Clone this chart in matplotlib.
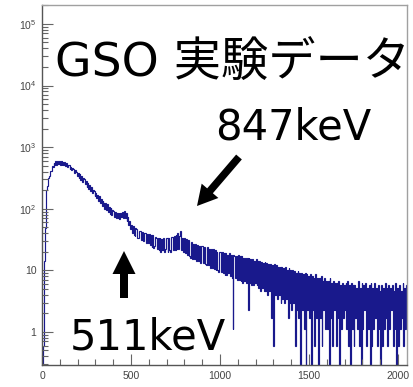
import numpy as np
import matplotlib
matplotlib.use("Agg")
import matplotlib.pyplot as plt
from matplotlib.patches import FancyArrow
from matplotlib.ticker import FixedLocator, FuncFormatter, LogLocator, MultipleLocator, NullFormatter

plt.rcParams["mathtext.fontset"] = "custom"
plt.rcParams["mathtext.rm"] = "Liberation Sans"
plt.rcParams["mathtext.it"] = "Liberation Sans:italic"

# GSO spectrum: counts per 5-channel bin, channels 0..2049 (one row = 50 channels)
bin_width = 5
counts = [
    0, 0.6, 14, 48, 105, 200, 230, 315, 335, 415,
    410, 495, 470, 545, 505, 590, 520, 600, 530, 585,
    520, 590, 515, 580, 505, 565, 495, 550, 470, 520,
    505, 445, 480, 420, 455, 440, 380, 420, 400, 345,
    385, 320, 365, 295, 340, 275, 310, 300, 250, 285,
    225, 262, 210, 245, 195, 228, 180, 205, 195, 160,
    182, 148, 170, 135, 158, 122, 145, 110, 132, 125,
    100, 124, 95, 118, 88, 108, 82, 101, 78, 96,
    93, 74, 90, 71, 86, 70, 84, 69, 86, 72,
    88, 70, 92, 71, 86, 64, 74, 55, 62, 46,
    55, 41, 52, 38, 36, 48, 46, 34, 33, 44,
    43, 31, 42, 30, 30, 41, 40, 28, 39, 28,
    39, 26, 38, 24, 37, 23, 25, 35, 34, 22,
    33, 21, 33, 20, 32, 21, 33, 20, 22, 33,
    34, 20, 34, 21, 20, 35, 35, 21, 36, 21,
    37, 22, 40, 22, 36, 44, 21, 34, 20, 33,
    33, 19, 32, 18, 31, 17, 16, 29, 28, 15,
    27, 15, 27, 14, 26, 14, 25, 14, 13, 25,
    25, 13, 24, 12.5, 12, 24, 23, 12, 22, 11,
    22, 11, 22, 10.5, 21, 10, 20, 10, 9.5, 20,
    20, 9.5, 20, 9, 19, 8.5, 19, 8.5, 18, 9,
    19, 8, 18, 7.5, 1.1, 18, 17, 7.5, 17, 7,
    18, 7, 17, 6.8, 17, 6.3, 16, 6.8, 16, 6.3,
    16, 2.3, 16, 6.3, 15, 5.7, 15, 5.7, 14, 6.3,
    15, 5.7, 14.3, 5.1, 14.3, 4.6, 13.7, 5.1, 13.1, 4.6,
    13.7, 4.6, 13.1, 4, 12.5, 4.6, 12.5, 1.7, 12, 4,
    0.6, 12.5, 4, 12, 3.4, 11.4, 4, 11.4, 2.9, 11.4,
    3.4, 10.8, 2.9, 11.4, 3.4, 10.3, 1.7, 10.8, 2.9, 10.3,
    2.3, 10.3, 2.9, 9.7, 0.6, 9.1, 2.3, 9.7, 1.7, 9.1,
    0, 9.1, 2.3, 8.6, 1.1, 9.1, 0, 8.6, 2.3, 8,
    1.7, 8.6, 0, 8, 2.3, 7.4, 0.6, 8.6, 1.7, 7.4,
    0, 7.4, 1.7, 8, 0.6, 6.8, 2.3, 7.4, 1.1, 6.8,
    1.1, 6.8, 0, 7.4, 1.7, 6.3, 0.6, 6.8, 2.3, 6.3,
    0.6, 6.3, 1.7, 6.8, 0, 5.7, 1.1, 6.3, 1.7, 5.7,
    2.3, 6.3, 1.1, 6.8, 0.6, 5.7, 0, 6.3, 1.1, 5.7,
    0.6, 5.7, 1.7, 5.1, 1.1, 6.8, 0.6, 5.1, 0, 6.3,
    1.1, 5.7, 2.3, 6.3, 0.6, 5.1, 1.1, 5.7, 0, 6.3,
    0.6, 5.1, 1.1, 6.3, 1.7, 5.1, 0.6, 5.7, 1.1, 4.6,
    0, 5.7, 0.6, 5.1, 1.1, 6.3, 1.7, 5.1, 0.6, 5.7,
    1.1, 5.1, 2.3, 5.7, 0.6, 4.6, 1.1, 6.3, 0, 5.1,
    0.6, 5.7, 1.1, 4.6, 1.7, 6.3, 0.6, 5.1, 1.1, 5.7,
]

x_ticks = [0, 500, 1000, 1500, 2000]
y_decades = [1, 10, 100, 1000, 10000, 100000]

title_text = "GSO 実験データ"
label_847 = "847keV"
label_511 = "511keV"

W, H = 413, 387
fig = plt.figure(figsize=(W / 100, H / 100), dpi=100)
ax = fig.add_axes([42 / W, (H - 365) / H, (407 - 42) / W, (365 - 5) / H])

vals = np.asarray(counts, dtype=float)
edges = np.arange(len(vals) + 1) * bin_width
# empty bins drop to the bottom of the log axis
plot_vals = np.where(vals > 0, vals, 1e-3)
ax.stairs(plot_vals, edges, baseline=None, color="#000080", lw=0.85, alpha=0.9)

ax.set_yscale("log")
ax.set_xlim(0, 2050)
ax.set_ylim(0.29, 2.03e5)

ax.xaxis.set_major_locator(FixedLocator(x_ticks))
ax.xaxis.set_minor_locator(MultipleLocator(100))
ax.yaxis.set_major_locator(FixedLocator(y_decades))
ax.yaxis.set_minor_locator(LogLocator(base=10, subs=np.arange(2, 10)))
ax.yaxis.set_minor_formatter(NullFormatter())


def decade_label(v, pos):
    n = int(round(np.log10(v)))
    if n == 0:
        return "1"
    if n == 1:
        return "10"
    return r"$10^{%d}$" % n


ax.yaxis.set_major_formatter(FuncFormatter(decade_label))
ax.xaxis.set_major_formatter(FuncFormatter(lambda v, p: "%d" % v))

tick_col = "#666666"
ax.tick_params(axis="both", which="major", direction="in", length=8, width=0.8,
               color=tick_col, labelsize=7.5, labelcolor="#444444", pad=4)
ax.tick_params(axis="both", which="minor", direction="in", length=4, width=0.8,
               color=tick_col)
ax.tick_params(top=False, right=False, which="both")
for lab in ax.get_xticklabels() + ax.get_yticklabels():
    lab.set_fontfamily("Liberation Sans")

for side in ("left", "bottom"):
    ax.spines[side].set_color("#555555")
    ax.spines[side].set_linewidth(1.0)
for side in ("top", "right"):
    ax.spines[side].set_color("#a0a0a0")
    ax.spines[side].set_linewidth(1.0)

fam = ["DejaVu Sans", "Noto Sans CJK JP"]
fig.text(55 / W, 1 - 77 / H, title_text, fontsize=34, family=fam,
         ha="left", va="baseline", color="black")
fig.text(215 / W, 1 - 139 / H, label_847, fontsize=30, family=fam,
         ha="left", va="baseline", color="black")
fig.text(70 / W, 1 - 350 / H, label_511, fontsize=30, family=fam,
         ha="left", va="baseline", color="black")


# arrows, drawn in inches so the shapes stay undistorted
def arrow_px(x0, y0, x1, y1, width, head_w, head_l):
    a = FancyArrow(x0 / 100, (H - y0) / 100, (x1 - x0) / 100, -(y1 - y0) / 100,
                   width=width / 100, head_width=head_w / 100, head_length=head_l / 100,
                   length_includes_head=True, transform=fig.dpi_scale_trans,
                   color="black", lw=0)
    fig.add_artist(a)


arrow_px(124, 298, 124, 251, 8, 23, 23)
arrow_px(239, 157, 197, 206, 7.5, 22, 20)

fig.savefig("out.png", dpi=100)
